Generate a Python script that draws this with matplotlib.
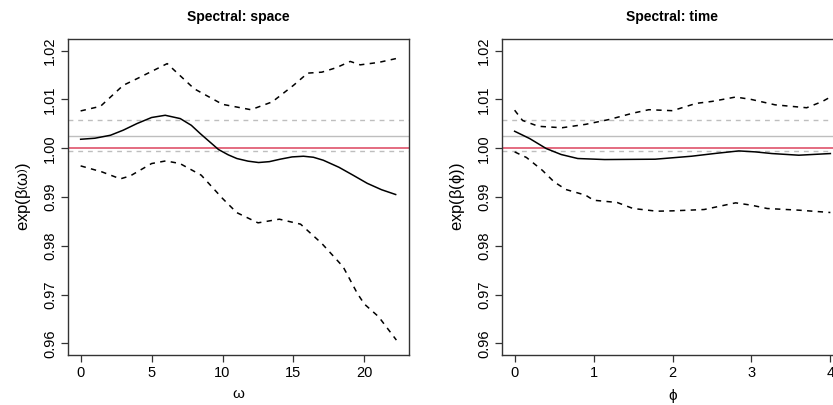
import matplotlib
matplotlib.use("Agg")
import matplotlib.pyplot as plt

plt.rcParams['font.family'] = ['Liberation Sans', 'DejaVu Sans']
plt.rcParams['mathtext.fontset'] = 'custom'
plt.rcParams['mathtext.rm'] = 'Liberation Sans'
plt.rcParams['mathtext.it'] = 'Liberation Sans'

# Spatial frequency effect
omega = [0, 1.0, 2.1, 3.0, 3.97, 5.0, 5.96, 7.02, 7.8, 8.43, 9.1, 9.72, 10.4, 11.01, 11.8,
         12.54, 13.3, 14.06, 14.9, 15.7, 16.4, 17.1, 18.2, 19.2, 20.2, 21.2, 22.2]
space_est = [1.00184, 1.00205, 1.00266, 1.0037, 1.00506, 1.0063, 1.00676, 1.00608, 1.0047,
             1.0030, 1.0013, 0.99973, 0.99865, 0.99789, 0.99735, 0.99707, 0.99725, 0.99775,
             0.99822, 0.99836, 0.99815, 0.99754, 0.9961, 0.99447, 0.9928, 0.9915, 0.99051]

omega_up = [0, 1.4, 3, 4, 6.1, 8, 10, 12, 13.5, 15, 16, 17, 18, 19, 19.7, 21, 22.25]
space_up = [1.00765, 1.0086, 1.0129, 1.0143, 1.01735, 1.0122, 1.0090, 1.0079, 1.0095, 1.0129,
            1.0154, 1.0156, 1.0165, 1.0178, 1.0171, 1.0176, 1.0184]

omega_lo = [0, 1.5, 2.8, 3.5, 5, 6, 7, 8.5, 10, 11, 12.5, 14, 15.5, 17, 18.5, 19.5, 20, 21, 22.25]
space_lo = [0.99638, 0.99515, 0.99372, 0.99433, 0.99686, 0.9974, 0.99686, 0.99447, 0.9897, 0.9868,
            0.9847, 0.98545, 0.98443, 0.98046, 0.97568, 0.97022, 0.96803, 0.96544, 0.96066]

# Temporal frequency effect
phi = [0, 0.19, 0.40, 0.59, 0.80, 1.14, 1.78, 2.24, 2.55, 2.84, 3.05, 3.26, 3.6, 4.0]
time_est = [1.00348, 1.00199, 0.99994, 0.99871, 0.99789, 0.99768, 0.99775, 0.99836, 0.99895,
            0.99945, 0.99925, 0.99891, 0.99857, 0.99891]

phi_up = [0, 0.1, 0.3, 0.6, 0.9, 1.2, 1.5, 1.7, 2.0, 2.3, 2.5, 2.8, 3.0, 3.3, 3.7, 3.9, 4.0]
time_up = [1.0078, 1.0057, 1.0045, 1.0042, 1.0049, 1.0059, 1.0072, 1.0079, 1.0077, 1.0092,
           1.0096, 1.0105, 1.0100, 1.0089, 1.0083, 1.0096, 1.0105]

phi_lo = [0, 0.15, 0.35, 0.5, 0.65, 0.9, 1.0, 1.3, 1.5, 1.8, 2.0, 2.4, 2.8, 3.0, 3.2, 3.6, 4.0]
time_lo = [0.99925, 0.9981, 0.99549, 0.9931, 0.99153, 0.99037, 0.98934, 0.98887, 0.98764, 0.98709,
           0.98716, 0.98743, 0.9888, 0.98832, 0.98764, 0.9873, 0.98682]

# Reference levels
ref_one = 1.0
overall = 1.0025
overall_lo = 0.99938
overall_hi = 1.0057

y_ticks = [0.96, 0.97, 0.98, 0.99, 1.00, 1.01, 1.02]
y_ticklabels = ["0.96", "0.97", "0.98", "0.99", "1.00", "1.01", "1.02"]

RED = "#DF536B"
GRAY = "#BEBEBE"
DASH = (0, (3.5, 3.5))

fig = plt.figure(figsize=(8.33, 4.05), dpi=100)
ax1 = fig.add_axes([68 / 833, 1 - 355 / 405, 341 / 833, 316 / 405])
ax2 = fig.add_axes([502 / 833, 1 - 355 / 405, 341 / 833, 316 / 405])


def style(ax, xmin, xmax, xticks, title, xlabel, ylabel):
    pad = 0.04 * (xmax - xmin)
    ax.set_xlim(xmin - pad, xmax + pad)
    ax.set_ylim(0.96 - 0.0024, 1.02 + 0.0024)
    ax.set_xticks(xticks)
    ax.set_xticklabels([str(t) for t in xticks])
    ax.set_yticks(y_ticks)
    ax.set_yticklabels(y_ticklabels, rotation=90, va='center')
    ax.tick_params(direction='out', length=5, width=0.9, labelsize=10.5, color='#333333', pad=3)
    for s in ax.spines.values():
        s.set_color('#333333')
        s.set_linewidth(1.0)
    ax.set_title(title, fontsize=10, fontweight='bold', pad=13)
    ax.set_xlabel(xlabel, fontsize=11, labelpad=5)
    ax.set_ylabel(ylabel, fontsize=12, labelpad=7)


for ax in (ax1, ax2):
    ax.axhline(overall_hi, color=GRAY, lw=1.0, ls=DASH)
    ax.axhline(overall_lo, color=GRAY, lw=1.0, ls=DASH)
    ax.axhline(overall, color=GRAY, lw=1.0)
    ax.axhline(ref_one, color=RED, lw=1.2)

ax1.plot(omega, space_est, color='black', lw=1.1)
ax1.plot(omega_up, space_up, color='black', lw=1.1, ls=DASH)
ax1.plot(omega_lo, space_lo, color='black', lw=1.1, ls=DASH)

ax2.plot(phi, time_est, color='black', lw=1.1)
ax2.plot(phi_up, time_up, color='black', lw=1.1, ls=DASH)
ax2.plot(phi_lo, time_lo, color='black', lw=1.1, ls=DASH)

style(ax1, 0, 22.25, [0, 5, 10, 15, 20], "Spectral: space", r"$\omega$",
      r"$\mathrm{exp}\left(\beta\left(\omega\right)\right)$")
style(ax2, 0, 4, [0, 1, 2, 3, 4], "Spectral: time", r"$\phi$",
      r"$\mathrm{exp}\left(\beta\left(\phi\right)\right)$")

fig.savefig("out.png", dpi=100)
